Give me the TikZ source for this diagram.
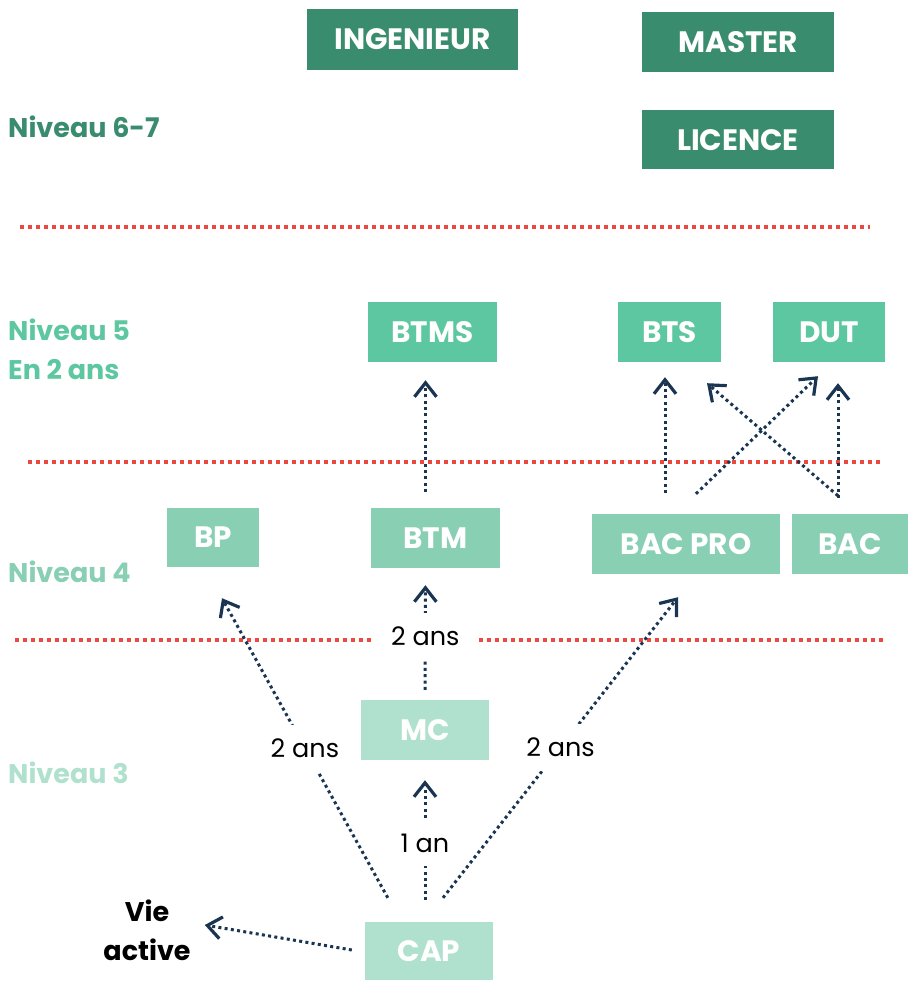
\documentclass[tikz,border=0pt]{standalone}
\usepackage{fontspec}
\setmainfont{Poppins}
\usetikzlibrary{arrows.meta,positioning}

\definecolor{vert67}{HTML}{3A8C6F}
\definecolor{vert5}{HTML}{5DC7A1}
\definecolor{vert4}{HTML}{88CFB4}
\definecolor{vert3}{HTML}{B0E1CF}
\definecolor{marine}{HTML}{1A3552}
\definecolor{rouge}{HTML}{E9493F}

\begin{document}
\begin{tikzpicture}[x=1pt,y=-1pt,inner sep=0pt,
  diplome/.style={text=white,font=\fontsize{29.5}{34}\selectfont\bfseries,
    minimum height=60pt},
  niveau/.style={anchor=west,align=left,font=\fontsize{27}{39}\selectfont\bfseries},
  duree/.style={fill=white,inner xsep=6pt,inner ysep=14pt,
    font=\fontsize{25.5}{30}\selectfont},
  parcours/.style={draw=marine,line width=3pt,dash pattern=on 3pt off 3.3pt,
    -{Straight Barb[length=14pt,width=22pt,line width=3.2pt]}},
  palier/.style={draw=rouge,line width=4pt,dash pattern=on 4pt off 4pt}]
  \useasboundingbox (0,0) rectangle (908,981);

  % niveaux
  \node[niveau,text=vert67] (n67) at (8,127) {Niveau 6-7};
  \node[niveau,text=vert5] (n5) at (8,349) {Niveau 5\\En 2 ans};
  \node[niveau,text=vert4] (n4) at (8,572) {Niveau 4};
  \node[niveau,text=vert3] (n3) at (8,773) {Niveau 3};

  % paliers
  \draw[palier] (20,227) -- (870,227);
  \draw[palier] (28,462) -- (880,462);
  \draw[palier] (15,640) -- (885,640);

  % diplomes
  \node[diplome,fill=vert67,minimum width=211pt,minimum height=61pt] (ing) at (412.5,39.5) {INGENIEUR};
  \node[diplome,fill=vert67,minimum width=192pt] (master) at (738,42) {MASTER};
  \node[diplome,fill=vert67,minimum width=192pt,minimum height=59pt] (licence) [below=38pt of master] {LICENCE};
  \node[diplome,fill=vert5,minimum width=129pt] (btms) at (432.5,332) {BTMS};
  \node[diplome,fill=vert5,minimum width=103pt] (bts) at (669.5,332) {BTS};
  \node[diplome,fill=vert5,minimum width=112pt] (dut) at (829,332) {DUT};
  \node[diplome,fill=vert4,minimum width=92pt,minimum height=59pt] (bp) at (213,537.5) {BP};
  \node[diplome,fill=vert4,minimum width=129pt] (btm) at (435.5,538) {BTM};
  \node[diplome,fill=vert4,minimum width=188pt] (bacpro) at (686,544) {BAC PRO};
  \node[diplome,fill=vert4,minimum width=116pt] (bac) at (850,544) {BAC};
  \node[diplome,fill=vert3,minimum width=128pt] (mc) at (425,730) {MC};
  \node[diplome,fill=vert3,minimum width=128pt,minimum height=58pt] (cap) at (429,951) {CAP};
  \node[align=center,font=\fontsize{27}{39}\selectfont\bfseries] (vie) at (147,930) {Vie\\active};

  % parcours
  \draw[parcours,shorten <=16pt,shorten >=18pt] ([xshift=-10pt]btm.north) -- ([xshift=-7pt]btms.south);
  \draw[parcours,shorten <=10pt,shorten >=17pt] (mc.north) -- node[duree,yshift=-2pt,inner xsep=20pt] {2 ans} ([xshift=-10pt]btm.south);
  \draw[parcours,shorten <=22pt,shorten >=20pt] ([xshift=-4pt]cap.north) -- node[duree,yshift=-2pt] {1 an} (mc.south);
  \draw[parcours] ([xshift=23pt,yshift=24pt]cap.north west) -- node[duree,pos=0.5] {2 ans} ([xshift=9pt,yshift=-31pt]bp.south);
  \draw[parcours] ([xshift=14pt,yshift=24pt]cap.north) -- node[duree,pos=0.5] {2 ans} ([xshift=-8pt,yshift=-23pt]bacpro.south);
  \draw[parcours] ([xshift=-13pt,yshift=1pt]cap.west) -- ([xshift=14pt,yshift=5pt]vie.east);
  \draw[parcours,shorten <=21pt,shorten >=15pt] ([xshift=-21pt]bacpro.north) -- ([xshift=-4.5pt]bts.south);
  \draw[parcours] ([xshift=10pt,yshift=20pt]bacpro.north) -- ([xshift=-11pt,yshift=-14pt]dut.south);
  \draw[parcours] ([xshift=-12pt,yshift=18pt]bac.north) -- ([xshift=37.5pt,yshift=-21pt]bts.south);
  \draw[parcours,shorten <=16pt,shorten >=21pt] ([xshift=-12pt]bac.north) -- ([xshift=9pt]dut.south);
\end{tikzpicture}
\end{document}
